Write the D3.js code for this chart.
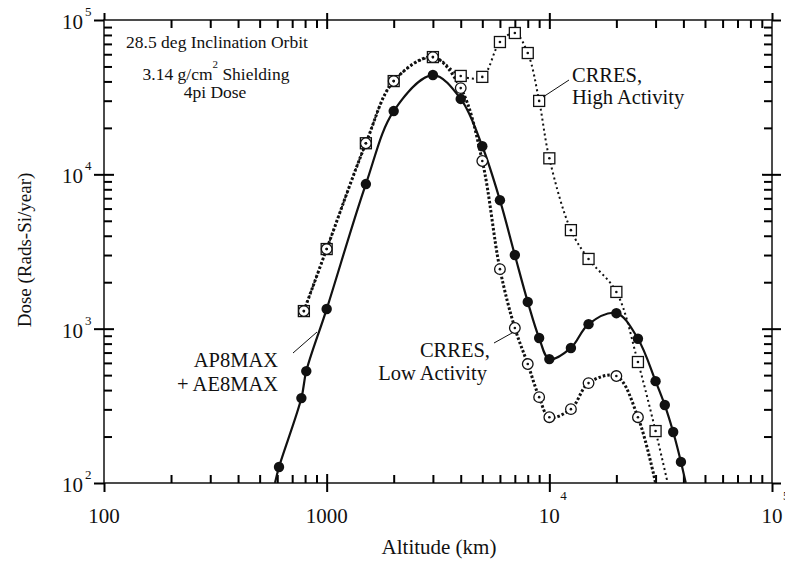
<!DOCTYPE html>
<html>
<head>
<meta charset="utf-8">
<script src="https://cdn.jsdelivr.net/npm/d3@7"></script>
<style>
  body { margin: 0; background: #fff; }
  text { font-family: "Liberation Serif", "Times New Roman", serif; fill: #111; }
  .ax line { stroke: #000; stroke-width: 2; }
  .ax .domain { display: none; }
</style>
</head>
<body>
<svg class="chart"></svg>
<script>
// altitude (km) / dose (rads-Si/year)
// AP8MAX + AE8MAX (filled circles); first and last entries are where the curve leaves the frame
const apAlt  = [586, 611, 770, 810, 1000, 1500, 2000, 3000, 4000, 5000, 6000, 7000, 8000, 9000, 10000, 12500, 15000, 20000, 25000, 30000, 33000, 36000, 39000, 41000];
const apDose = [100, 127, 355, 531, 1340, 8650, 25700, 44000, 30800, 15200, 6800, 3000, 1490, 870, 635, 750, 1070, 1260, 860, 457, 320, 214, 137, 100];

// CRRES high activity (squares)
const hiAlt  = [790, 1000, 1500, 2000, 3000, 4000, 5000, 6000, 7000, 8000, 9000, 10000, 12500, 15000, 20000, 25000, 30000, 34000];
const hiDose = [1300, 3280, 15900, 40200, 57500, 43400, 42800, 72000, 82400, 61100, 29900, 12700, 4350, 2830, 1730, 608, 217, 100];

// CRRES low activity (open circles)
const loAlt  = [790, 1000, 1500, 2000, 3000, 4000, 5000, 6000, 7000, 8000, 9000, 10000, 12500, 15000, 20000, 25000, 30000];
const loDose = [1300, 3280, 15900, 40200, 57500, 36200, 12200, 2430, 1010, 590, 360, 267, 301, 444, 493, 267, 100];

// tick labels
const xMajor = [100, 1000, 1e4, 1e5];
const xLabBase = ["100", "1000", "10", "10"];
const xLabSup = ["", "", "4", "5"];
const yMajor = [1e2, 1e3, 1e4, 1e5];
const yLabBase = ["10", "10", "10", "10"];
const yLabSup = ["2", "3", "4", "5"];

const width = 785, height = 564;
const pLeft = 104, pRight = 772, pTop = 20, pBottom = 483;

const svg = d3.select(".chart")
  .attr("width", width)
  .attr("height", height);

const x = d3.scaleLog().domain([100, 1e5]).range([pLeft, pRight]);
const y = d3.scaleLog().domain([100, 1e5]).range([pBottom, pTop]);

const zip = (a, b) => a.map((v, i) => ({ alt: v, dose: b[i] }));
const ap = zip(apAlt, apDose), hi = zip(hiAlt, hiDose), lo = zip(loAlt, loDose);

svg.append("clipPath").attr("id", "plot")
  .append("rect")
  .attr("x", pLeft).attr("y", pTop)
  .attr("width", pRight - pLeft).attr("height", pBottom - pTop);

// frame
svg.append("rect")
  .attr("x", pLeft).attr("y", pTop)
  .attr("width", pRight - pLeft).attr("height", pBottom - pTop)
  .attr("fill", "none").attr("stroke", "#111").attr("stroke-width", 1.5);

// ticks: minor ones point inward, majors cross the frame
const isMajor = v => Math.abs(Math.log10(v) - Math.round(Math.log10(v))) < 1e-6;
const xMinor = x.ticks().filter(v => !isMajor(v));
const yMinor = y.ticks().filter(v => !isMajor(v));

const axisAt = (axis, tx, ty) => svg.append("g").attr("class", "ax")
  .attr("transform", `translate(${tx},${ty})`)
  .call(axis.tickFormat(""));

// bottom / top
axisAt(d3.axisBottom(x).tickValues(xMinor).tickSize(-8), 0, pBottom);
axisAt(d3.axisTop(x).tickValues(xMinor).tickSize(-8), 0, pTop);
axisAt(d3.axisBottom(x).tickValues(xMajor).tickSize(9), 0, pBottom);
axisAt(d3.axisBottom(x).tickValues(xMajor.slice(1, 3)).tickSize(-9), 0, pBottom);
axisAt(d3.axisTop(x).tickValues(xMajor).tickSize(7), 0, pTop);
axisAt(d3.axisTop(x).tickValues(xMajor.slice(1, 3)).tickSize(-9), 0, pTop);
// left / right
axisAt(d3.axisLeft(y).tickValues(yMinor).tickSize(-8), pLeft, 0);
axisAt(d3.axisRight(y).tickValues(yMinor).tickSize(-8), pRight, 0);
axisAt(d3.axisLeft(y).tickValues(yMajor).tickSize(10), pLeft, 0);
axisAt(d3.axisLeft(y).tickValues(yMajor.slice(1, 3)).tickSize(-10), pLeft, 0);
axisAt(d3.axisRight(y).tickValues(yMajor).tickSize(9), pRight, 0);
axisAt(d3.axisRight(y).tickValues(yMajor.slice(1, 3)).tickSize(-10), pRight, 0);

// tick labels
xMajor.forEach((v, i) => {
  svg.append("text").attr("x", x(v)).attr("y", 523)
    .attr("text-anchor", "middle").attr("font-size", 21).text(xLabBase[i]);
  if (xLabSup[i]) svg.append("text").attr("x", x(v) + 11).attr("y", 500)
    .attr("font-size", 13).text(xLabSup[i]);
});
yMajor.forEach((v, i) => {
  svg.append("text").attr("x", 83).attr("y", y(v) + 9)
    .attr("text-anchor", "end").attr("font-size", 21).text(yLabBase[i]);
  svg.append("text").attr("x", 85).attr("y", y(v) - 4)
    .attr("font-size", 13).text(yLabSup[i]);
});

// axis titles
svg.append("text").attr("x", 439).attr("y", 554)
  .attr("text-anchor", "middle").attr("font-size", 21).text("Altitude (km)");
svg.append("text").attr("transform", "translate(31,250) rotate(-90)")
  .attr("text-anchor", "middle").attr("font-size", 19).text("Dose (Rads-Si/year)");

// curves
const line = d3.line()
  .x(d => x(d.alt)).y(d => y(d.dose))
  .curve(d3.curveCatmullRom.alpha(0.5));
const plot = svg.append("g").attr("clip-path", "url(#plot)");

plot.append("path").datum(lo).attr("d", line)
  .attr("fill", "none").attr("stroke", "#111")
  .attr("stroke-width", 3).attr("stroke-dasharray", "2.5,2");
plot.append("path").datum(hi).attr("d", line)
  .attr("fill", "none").attr("stroke", "#111")
  .attr("stroke-width", 2).attr("stroke-dasharray", "2,3");
plot.append("path").datum(ap).attr("d", line)
  .attr("fill", "none").attr("stroke", "#111").attr("stroke-width", 2.2);

// markers (skip the frame exit points)
const inside = d => d.dose > 100;

plot.selectAll(".sq").data(hi.filter(inside)).enter().append("rect")
  .attr("x", d => x(d.alt) - 5.5).attr("y", d => y(d.dose) - 5.5)
  .attr("width", 11).attr("height", 11)
  .attr("fill", "#fff").attr("stroke", "#111").attr("stroke-width", 1.3);
plot.selectAll(".oc").data(lo.filter(inside)).enter().append("circle")
  .attr("cx", d => x(d.alt)).attr("cy", d => y(d.dose)).attr("r", 5.3)
  .attr("fill", "#fff").attr("stroke", "#111").attr("stroke-width", 1.3);
plot.selectAll(".dot").data(hi.filter(inside).concat(lo.filter(inside))).enter().append("circle")
  .attr("cx", d => x(d.alt)).attr("cy", d => y(d.dose)).attr("r", 1.3)
  .attr("fill", "#111");
plot.selectAll(".fc").data(ap.filter(inside)).enter().append("circle")
  .attr("cx", d => x(d.alt)).attr("cy", d => y(d.dose)).attr("r", 5.2)
  .attr("fill", "#111");

// annotations
const note = (tx, ty, str, size, anchor) =>
  svg.append("text").attr("x", tx).attr("y", ty)
    .attr("font-size", size).attr("text-anchor", anchor || "start").text(str);

note(217, 48, "28.5 deg Inclination Orbit", 17.5, "middle");
const sh = svg.append("text").attr("x", 216).attr("y", 80)
  .attr("font-size", 17.5).attr("text-anchor", "middle");
sh.append("tspan").text("3.14 g/cm");
sh.append("tspan").attr("dy", -12).attr("font-size", 11).text("2");
sh.append("tspan").attr("dy", 12).text(" Shielding");
note(215, 98, "4pi Dose", 17.5, "middle");

note(572, 82, "CRRES,", 20.5);
note(572, 104, "High Activity", 20.5);
note(490, 357, "CRRES,", 20.5, "end");
note(487, 380, "Low Activity", 20.5, "end");
note(278, 367, "AP8MAX", 20.5, "end");
note(278, 391, "+ AE8MAX", 20.5, "end");

const lead = svg.append("g").attr("stroke", "#111").attr("stroke-width", 1);
[[543, 97, 569, 80], [494, 343, 512, 333], [293, 353, 317, 332]].forEach(l => {
  lead.append("line").attr("x1", l[0]).attr("y1", l[1]).attr("x2", l[2]).attr("y2", l[3]);
});
</script>
</body>
</html>
